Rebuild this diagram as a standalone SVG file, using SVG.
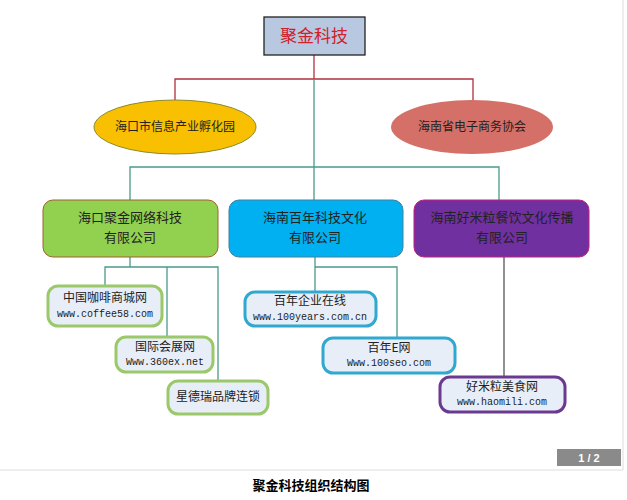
<svg xmlns="http://www.w3.org/2000/svg" width="627" height="500" viewBox="0 0 627 500">
<style>
text{font-family:"Noto Sans CJK SC",sans-serif;text-anchor:middle;fill:#222}
.t{font-size:12px}
.u{font-family:"Liberation Mono",monospace;font-size:10px}
.big{font-size:13px}
.c{fill:none;stroke-width:1.3}
.sub{fill:#e8eef8;stroke-width:3}
</style>
<rect width="627" height="500" fill="#fff"/>
<line x1="623" y1="0" x2="623" y2="470" stroke="#ddd"/>
<line x1="0" y1="470" x2="623" y2="470" stroke="#ddd"/>
<g id="connectors">
<polyline class="c" stroke="#b03040" points="314,55 314,79"/>
<polyline class="c" stroke="#b03040" points="175,100 175,79 473,79 473,100"/>
<polyline class="c" stroke="#4a9a8a" points="314,79 314,200"/>
<polyline class="c" stroke="#4a9a8a" points="130,200 130,167 499,167 499,200"/>
<polyline class="c" stroke="#4a9a8a" points="130,257 130,267"/>
<polyline class="c" stroke="#4a9a8a" points="105,286 105,267 218,267 218,381"/>
<polyline class="c" stroke="#4a9a8a" points="167,267 167,337"/>
<polyline class="c" stroke="#4a9a8a" points="315,257 315,292"/>
<polyline class="c" stroke="#4a9a8a" points="315,267 397,267 397,338"/>
<polyline class="c" stroke="#555" points="504,257 504,377"/>
</g>
<g id="top"><rect x="264" y="17" width="101" height="38" fill="#b8c8e0" stroke="#222" stroke-width="1.3"/><text x="314" y="42" style="font-size:17px;fill:#d0202a">聚金科技</text></g>
<g id="e1"><ellipse cx="175" cy="127" rx="81" ry="27" fill="#f8c000" stroke="#8a8a30"/><text class="t" x="175" y="131">海口市信息产业孵化园</text></g>
<g id="e2"><ellipse cx="472" cy="127" rx="81" ry="27" fill="#d47068"/><text class="t" x="472" y="131">海南省电子商务协会</text></g>
<g id="b1"><rect x="43" y="200" width="175" height="57" rx="10" fill="#92d050" stroke="#a06030"/><text class="big" x="130" y="222">海口聚金网络科技</text><text class="big" x="130" y="242">有限公司</text></g>
<g id="b2"><rect x="229" y="200" width="174" height="57" rx="10" fill="#00b0f0" stroke="#4080a0"/><text class="big" x="315" y="222">海南百年科技文化</text><text class="big" x="315" y="242">有限公司</text></g>
<g id="b3"><rect x="414" y="200" width="175" height="57" rx="10" fill="#7030a0" stroke="#c02080"/><text class="big" x="502" y="222">海南好米粒餐饮文化传播</text><text class="big" x="502" y="242">有限公司</text></g>
<g id="s1"><rect class="sub" x="48" y="286" width="114" height="40" rx="10" stroke="#9bc86a"/><text class="t" x="105" y="302">中国咖啡商城网</text><text class="u" x="105" y="317">www.coffee58.com</text></g>
<g id="s2"><rect class="sub" x="116" y="337" width="97" height="35" rx="10" stroke="#9bc86a"/><text class="t" x="165" y="351">国际会展网</text><text class="u" x="165" y="365">Www.360ex.net</text></g>
<g id="s3"><rect class="sub" x="168" y="381" width="100" height="33" rx="10" stroke="#9bc86a"/><text class="t" x="218" y="401">星德瑞品牌连锁</text></g>
<g id="s4"><rect class="sub" x="245" y="292" width="131" height="34" rx="10" stroke="#30a8d0"/><text class="t" x="310" y="305">百年企业在线</text><text class="u" x="310" y="320">www.100years.com.cn</text></g>
<g id="s5"><rect class="sub" x="323" y="338" width="132" height="35" rx="10" stroke="#30a8d0"/><text class="t" x="389" y="352">百年E网</text><text class="u" x="389" y="366">Www.100seo.com</text></g>
<g id="s6"><rect class="sub" x="440" y="377" width="125" height="35" rx="10" stroke="#6a3a90"/><text class="t" x="502" y="391">好米粒美食网</text><text class="u" x="502" y="405">www.haomili.com</text></g>
<g id="pager"><rect x="557" y="449" width="64" height="17" fill="#8a8a8a"/><text x="589" y="462" style="font-family:'Liberation Sans',sans-serif;font-size:11px;font-weight:bold;fill:#fff">1 / 2</text></g>
<text x="311" y="490" style="font-size:13px;font-weight:bold;fill:#000">聚金科技组织结构图</text>
</svg>
